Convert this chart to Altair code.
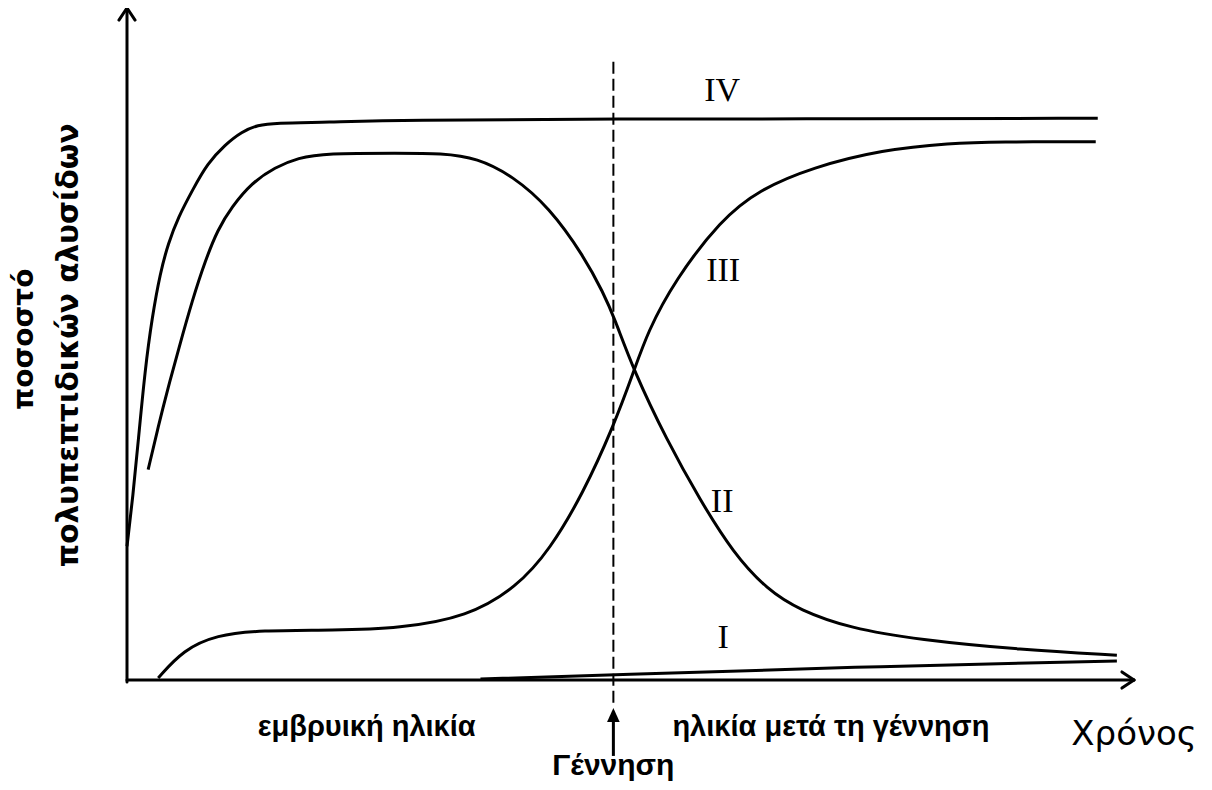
import altair as alt
import pandas as pd

# ---- curve data (time units 0..100 along x-axis, percent 0..100 on y-axis) ----
IV_t = [0, 0.6, 1.1, 1.8, 2.5, 3.3, 4.1, 5.1, 6.5, 8.0, 9.7, 11.4, 13.0, 14.7, 19.7,
        27.1, 48.3, 72.8, 96.4]
IV_v = [19.9, 27.5, 35.3, 46.3, 54.0, 60.6, 65.0, 68.9, 72.9, 76.9, 79.6, 81.6, 82.6, 82.9, 83.0,
        83.3, 83.5, 83.5, 83.6]

II_t = [2.1, 3.1, 4.1, 5.1, 6.5, 7.8, 9.0, 10.4, 12.4, 14.7, 17.0, 19.7, 27.1, 31.2, 34.8,
        38.3, 41.9, 45.4, 47.3, 48.4, 50.3, 53.6, 56.9, 60.2, 63.6, 66.8, 71.8, 78.6, 88.8, 98.3]
II_v = [31.3, 37.7, 43.6, 49.1, 56.6, 62.5, 67.0, 70.4, 74.0, 76.3, 77.7, 78.4, 78.4, 78.4, 77.7,
        75.0, 70.4, 63.0, 57.6, 53.9, 46.1, 35.7, 26.8, 18.9, 13.4, 10.4, 7.7, 6.0, 4.5, 3.7]

III_t = [3.1, 5.6, 8.9, 13.2, 20.5, 27.1, 33.8, 38.7, 42.0, 45.3, 48.3, 50.3, 51.7, 54.4,
         59.0, 62.7, 68.1, 75.0, 81.8, 86.4, 96.2]
III_v = [0.3, 4.5, 6.7, 7.4, 7.4, 7.7, 9.4, 13.8, 19.4, 27.8, 37.7, 45.8, 51.8, 59.5,
         68.5, 72.9, 76.3, 78.9, 79.9, 80.1, 80.1]

I_t = [35.1, 48.3, 71.8, 98.3]
I_v = [0.15, 0.74, 1.93, 2.83]

# curve labels
curve_labels = ["IV", "III", "II", "I"]
curve_label_t = [59.1, 59.2, 59.1, 59.2]
curve_label_v = [86.2, 59.4, 25.0, 4.8]

# birth time
birth_t = 48.3

# axis / annotation texts
x_labels = ["εμβρυική ηλικία", "ηλικία μετά τη γέννηση"]
x_labels_t = [23.8, 69.9]
x_labels_v = [-8.4, -8.4]
x_title = "Χρόνος"
birth_label = "Γέννηση"
y_title_lines = ["ποσοστό", "πολυπεπτιδικών αλυσίδων"]

# ---- build tables ----
rows = []
for name, ts, vs in [("IV", IV_t, IV_v), ("II", II_t, II_v), ("III", III_t, III_v), ("I", I_t, I_v)]:
    for i, (t, v) in enumerate(zip(ts, vs)):
        rows.append({"curve": name, "t": t, "v": v, "order": i})
curves = pd.DataFrame(rows)

XS = alt.Scale(domain=[-11.817, 106.951], nice=False, zero=False)
YS = alt.Scale(domain=[-15.179, 100], nice=False, zero=False)


def xe(f):
    return alt.X(f, type="quantitative", scale=XS, axis=None)


def ye(f):
    return alt.Y(f, type="quantitative", scale=YS, axis=None)


lines = alt.Chart(curves).mark_line(
    interpolate="basis", strokeWidth=3, color="black"
).encode(x=xe("t"), y=ye("v"), detail="curve:N", order="order:Q")

# axes with arrowheads
axes_df = pd.DataFrame({
    "x0": [0, 0, 0, 0, 100, 100],
    "y0": [-0.3, 0, 100, 100, 0, 0],
    "x1": [0, 100, -0.8, 0.8, 98.8, 98.8],
    "y1": [100, 0, 98.2, 98.2, 1.2, -1.2],
})
axes = alt.Chart(axes_df).mark_rule(strokeWidth=3, color="black", strokeCap="round").encode(
    x=xe("x0"), y=ye("y0"), x2="x1:Q", y2="y1:Q"
)

# dashed birth line
dash_df = pd.DataFrame({"t": [birth_t], "top": [92.0], "bottom": [-3.7]})
dash = alt.Chart(dash_df).mark_rule(strokeWidth=2, color="black", strokeDash=[12, 5]).encode(
    x=xe("t"), y=ye("top"), y2="bottom:Q"
)

# birth arrow
arrow_df = pd.DataFrame({"t": [birth_t], "a": [-4.9], "b": [-11.3], "head": [-5.2]})
arrow_shaft = alt.Chart(arrow_df).mark_rule(strokeWidth=3, color="black").encode(
    x=xe("t"), y=ye("a"), y2="b:Q"
)
arrow_head = alt.Chart(arrow_df).mark_point(
    shape="M0,-1L0.9,1L-0.9,1Z", size=196, filled=True, color="black", opacity=1
).encode(x=xe("t"), y=ye("head"))

# curve labels (serif)
cl_df = pd.DataFrame({"t": curve_label_t, "v": curve_label_v, "label": curve_labels})
clabels = alt.Chart(cl_df).mark_text(
    font="Liberation Serif", fontSize=34, color="black", align="center", baseline="alphabetic"
).encode(x=xe("t"), y=ye("v"), text="label:N")

# x labels (bold)
xl_df = pd.DataFrame({"t": x_labels_t, "v": x_labels_v, "label": x_labels})
xlabels = alt.Chart(xl_df).mark_text(
    font="Liberation Sans", fontWeight="bold", fontSize=29, color="black",
    align="center", baseline="alphabetic"
).encode(x=xe("t"), y=ye("v"), text="label:N")

xt_df = pd.DataFrame({"t": [100.0], "v": [-9.6], "label": [x_title]})
xtitle = alt.Chart(xt_df).mark_text(
    font="DejaVu Sans", fontSize=34, color="black", align="center", baseline="alphabetic"
).encode(x=xe("t"), y=ye("v"), text="label:N")

bl_df = pd.DataFrame({"t": [birth_t], "v": [-14.2], "label": [birth_label]})
blabel = alt.Chart(bl_df).mark_text(
    font="Liberation Sans", fontWeight="bold", fontSize=30, color="black",
    align="center", baseline="alphabetic"
).encode(x=xe("t"), y=ye("v"), text="label:N")

yt_df = pd.DataFrame({"t": [-9.3, -4.9], "v": [50.7, 49.8], "label": y_title_lines,
                      "fs": [28, 29.5]})
ytitle = alt.Chart(yt_df).mark_text(
    font="DejaVu Sans", fontWeight="bold", color="black",
    align="center", baseline="alphabetic", angle=270
).encode(x=xe("t"), y=ye("v"), text="label:N", size=alt.Size("fs:Q", scale=None, legend=None))

chart = alt.layer(
    axes, dash, arrow_shaft, arrow_head, lines, clabels, xlabels, xtitle, blabel, ytitle
).properties(
    width=1196, height=774, padding=0,
    autosize=alt.AutoSizeParams(type="none"),
    background="white",
).configure_view(stroke=None)

chart.save("out.html", embed_options={"renderer": "svg", "actions": False})
